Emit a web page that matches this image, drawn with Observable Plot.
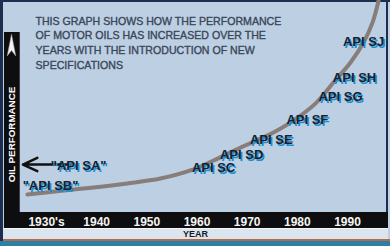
<!DOCTYPE html>
<html>
<head>
<meta charset="utf-8">
<script src="https://cdn.jsdelivr.net/npm/d3@7"></script>
<script src="https://cdn.jsdelivr.net/npm/@observablehq/plot@0.6"></script>
<style>
  html, body { margin: 0; padding: 0; background: #bccfe3; }
  #chart { position: relative; width: 390px; height: 246px; background: #bccfe3; overflow: hidden; font-family: "Liberation Sans", Arial, sans-serif; }
  .deco { position: absolute; }
  #chart svg.plot { position: absolute; left: 0; top: 0; }
</style>
</head>
<body>
<div id="chart">
  <div class="deco" style="left:0;top:0;width:390px;height:2px;background:#1d2d4d"></div>
  <div class="deco" style="left:0;top:0;width:3px;height:246px;background:#1d2d4d"></div>
  <div class="deco" style="left:386px;top:0;width:2px;height:240px;background:#1d2d4d"></div>
  <div class="deco" style="left:4px;top:32px;width:15px;height:197px;background:#0e0e10"></div>
  <div class="deco" style="left:19px;top:32px;width:1px;height:181px;background:#3a3f4a"></div>
  <div class="deco" style="left:4px;top:212px;width:384px;height:16px;background:#0e0e10"></div>
  <div class="deco" style="left:3px;top:228px;width:385px;height:1px;background:#f4f6f8"></div>
  <div class="deco" style="left:3px;top:229px;width:385px;height:10px;background:#dbe5f0"></div>
  <div class="deco" style="left:3px;top:239px;width:387px;height:2px;background:#b86a45"></div>
  <div class="deco" style="left:0;top:241px;width:390px;height:5px;background:#2d7fa8"></div>
  <svg class="deco" style="left:4px;top:32px" width="15" height="28">
    <polygon points="7.5,2 11.8,24 7.5,18.5 3.2,24" fill="#f2f2f2" stroke="#9a9a9a" stroke-width="0.5"/>
  </svg>
</div>
<script>
// Performance curve (year, relative performance 0-100)
const curveYears = [1926.2, 1935.4, 1939.4, 1946.1, 1952.7, 1958.7, 1963.3, 1968.7, 1973.7, 1978.6, 1983.6, 1987.2, 1990.6, 1993.2, 1995.0, 1996.2];
const curvePerf  = [8.9, 11.3, 12.2, 14.1, 16.4, 20.2, 24.9, 31.0, 36.2, 42.7, 51.6, 61.5, 70.9, 80.3, 89.7, 100];

// API specification labels
const specNames = ['"API SA"', '"API SB"', "API SC", "API SD", "API SE", "API SF", "API SG", "API SH", "API SJ"];
const specYears = [1936.4, 1930.8, 1963.3, 1968.9, 1974.8, 1982.0, 1988.6, 1991.4, 1993.2];
const specPerf  = [22.5, 13.1, 21.6, 27.7, 34.7, 44.1, 54.9, 63.8, 80.8];

// Arrow pointing at "API SA"
const arrowYears = [1934.8, 1925.3];
const arrowPerf  = [23.0, 23.0];

// X axis ticks
const tickYears  = [1930, 1940, 1950, 1960, 1970, 1980, 1990];
const tickLabels = ["1930's", "1940", "1950", "1960", "1970", "1980", "1990"];

const titleText = "THIS GRAPH SHOWS HOW THE PERFORMANCE\nOF MOTOR OILS HAS INCREASED OVER THE\nYEARS WITH THE INTRODUCTION OF NEW\nSPECIFICATIONS";
const yLabel = "OIL PERFORMANCE";
const xLabel = "YEAR";

const curve = curveYears.map((y, i) => ({year: y, perf: curvePerf[i]}));
const specs = specNames.map((n, i) => ({name: n, year: specYears[i], perf: specPerf[i]}));
const arrow = [{x1: arrowYears[0], x2: arrowYears[1], y1: arrowPerf[0], y2: arrowPerf[1]}];

const labelFont = {fontFamily: "Liberation Sans, Arial, sans-serif", fontWeight: "bold", fontSize: 13};

const plot = Plot.plot({
  width: 390,
  height: 246,
  marginTop: 0,
  marginBottom: 33,
  marginLeft: 20,
  marginRight: 4,
  style: {background: "transparent", fontFamily: "Liberation Sans, Arial, sans-serif", overflow: "visible"},
  x: {domain: [1930, 1990], range: [46, 347]},
  y: {domain: [0, 100], range: [213, 0]},
  marks: [
    Plot.text([titleText], {
      frameAnchor: "top-left", textAnchor: "start", lineAnchor: "top",
      dx: 15, dy: 13.5, lineHeight: 1.4, fontSize: 10.6,
      fill: "#3a4658", stroke: "#3a4658", strokeWidth: 0.35
    }),
    Plot.line(curve, {x: "year", y: "perf", stroke: "#877d7b", strokeWidth: 4, curve: "catmull-rom"}),
    Plot.arrow(arrow, {x1: "x1", y1: "y1", x2: "x2", y2: "y2", stroke: "#111", strokeWidth: 2.5, headLength: 11, headAngle: 50}),
    Plot.text(specs, {x: "year", y: "perf", text: "name", fill: "#17202c", ...labelFont}),
    Plot.axisX({
      ticks: tickYears, tickFormat: (d, i) => tickLabels[i],
      tickSize: 0, tickPadding: 4, label: null,
      fill: "#f4f4f0", fontSize: 12, fontWeight: "bold"
    }),
    Plot.axisY({ticks: [], label: null, tickSize: 0}),
    Plot.text([yLabel], {
      frameAnchor: "left", textAnchor: "middle", rotate: -90, dx: -8.5, dy: 27.5,
      fill: "#ffffff", fontSize: 9.8, fontWeight: "bold"
    }),
    Plot.text([xLabel], {
      frameAnchor: "bottom", dx: -8, dy: 23,
      fill: "#1a1a1a", fontSize: 9, fontWeight: "bold"
    })
  ]
});
plot.classList.add("plot");
d3.select(plot).selectAll("text")
  .filter(function () { return specNames.includes(this.textContent); })
  .style("text-shadow", "1.5px 2px 0.6px #1e8fd0");
document.getElementById("chart").appendChild(plot);
</script>
</body>
</html>
